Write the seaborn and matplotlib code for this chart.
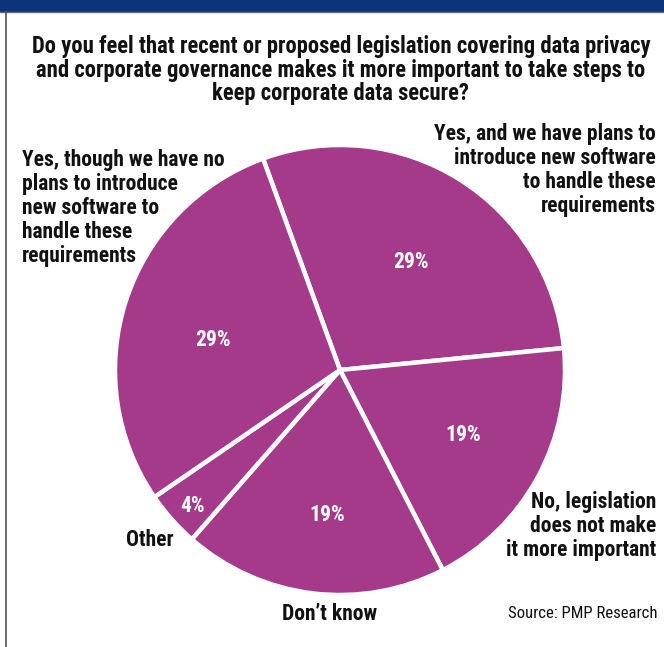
import matplotlib
matplotlib.use("Agg")
import matplotlib.pyplot as plt
from matplotlib import font_manager as fm
from matplotlib.patches import Rectangle
import seaborn as sns

# Survey answers, clockwise from the top
answers = [
    "Yes, and we have plans to\nintroduce new software\nto handle these\nrequirements",
    "No, legislation\ndoes not make\nit more important",
    "Don\u2019t know",
    "Other",
    "Yes, though we have no\nplans to introduce\nnew software to\nhandle these\nrequirements",
]
shares = [29, 19, 19, 4, 29]

title = ("Do you feel that recent or proposed legislation covering data privacy\n"
         "and corporate governance makes it more important to take steps to\n"
         "keep corporate data secure?")
source = "Source: PMP Research"

sns.set_theme(style="white")

# prefer a narrow sans face when one is available
family = "DejaVu Sans"
stretch = "normal"
for name in ["Liberation Sans Narrow", "Roboto Condensed", "Arial Narrow",
             "Nimbus Sans Narrow", "Open Sans Condensed"]:
    try:
        fm.findfont(fm.FontProperties(family=name, weight="bold"),
                    fallback_to_default=False)
        family = name
        break
    except Exception:
        continue
if family == "DejaVu Sans":
    path = fm.findfont(fm.FontProperties(family="DejaVu Sans", weight="bold",
                                         stretch="condensed"))
    if "Condensed" in path:
        stretch = "condensed"
plt.rcParams["font.family"] = [family, "DejaVu Sans"]
plt.rcParams["font.stretch"] = stretch

W, H = 664, 647
fig = plt.figure(figsize=(W / 100, H / 100), dpi=100)
ax = fig.add_axes([0, 0, 1, 1])

purple = "#a63a8a"
cx, cy, r = 340, H - 370, 225

ax.pie(shares, colors=[purple] * len(shares), startangle=110,
       counterclock=False, center=(cx, cy), radius=r,
       wedgeprops=dict(edgecolor="white", linewidth=3.2))

ax.set_xlim(0, W)
ax.set_ylim(0, H)
ax.set_aspect("equal")
ax.axis("off")

def py(y):
    return H - y

# size the bold text so the first title line spans its column
renderer = fig.canvas.get_renderer()
probe = ax.text(0, 0, title.split("\n")[0], fontsize=13.5, fontweight="bold")
wpx = probe.get_window_extent(renderer).width
probe.remove()
fs = 13.5 * 618 / wpx
lab_fs = fs * 0.955
src_fs = fs * 0.74

# header band and frame line
ax.add_patch(Rectangle((0, py(11)), W, 11, color="#0b347c", zorder=5))
ax.plot([0, W], [py(11.5), py(11.5)], color="#6a6a6a", lw=1, zorder=5)
ax.plot([5.5, 5.5], [0, py(11)], color="#555555", lw=1.2, zorder=5)

bold = dict(fontweight="bold", color="#111111")
ax.text(341, py(70), title, ha="center", va="center", fontsize=fs,
        linespacing=1.05, **bold)

# category labels around the pie
ax.text(656, py(170), answers[0], ha="right", va="center", fontsize=lab_fs,
        linespacing=1.12, **bold)
ax.text(656, py(526), answers[1], ha="right", va="center", fontsize=lab_fs,
        linespacing=1.12, **bold)
ax.text(330, py(614), answers[2], ha="center", va="center", fontsize=lab_fs, **bold)
ax.text(150, py(540), answers[3], ha="center", va="center", fontsize=lab_fs, **bold)
ax.text(22, py(208), answers[4], ha="left", va="center", fontsize=lab_fs,
        linespacing=1.12, **bold)

# percentage labels inside the slices
pct_pos = [(411, 262), (463, 435), (327, 515), (193, 506), (213, 340)]
for v, (x, y) in zip(shares, pct_pos):
    ax.text(x, py(y), f"{v}%", ha="center", va="center", fontsize=lab_fs,
            fontweight="bold", color="white")

ax.text(657, py(614), source, ha="right", va="center", fontsize=src_fs,
        color="#111111")

fig.savefig("out.png", dpi=100)
